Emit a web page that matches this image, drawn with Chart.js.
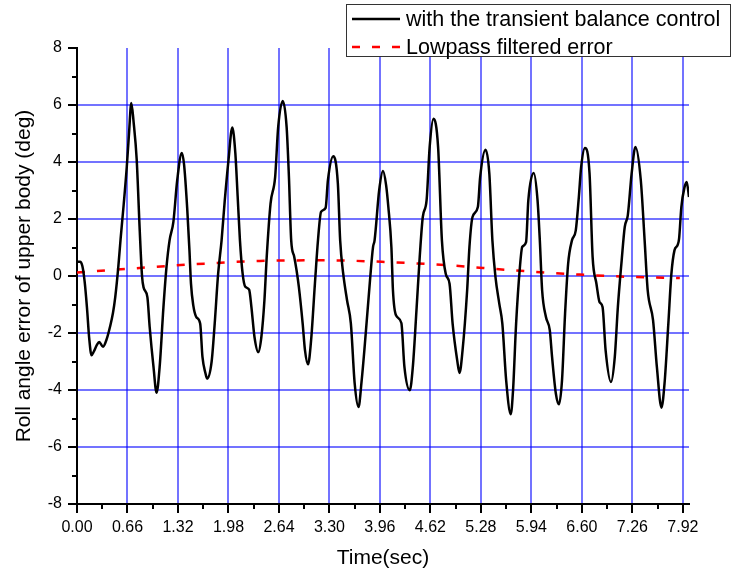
<!DOCTYPE html>
<html>
<head>
<meta charset="utf-8">
<script src="https://cdn.jsdelivr.net/npm/chart.js@4.4.0/dist/chart.umd.min.js"></script>
<style>
  html, body { margin: 0; padding: 0; background: #fff; }
</style>
</head>
<body>
<canvas id="rollChart" width="733" height="575"></canvas>
<script>
// roll angle error (sec, deg)
const timeSec = [
  0.00, 0.04, 0.07, 0.10, 0.13, 0.16, 0.19, 0.22, 0.26, 0.29, 0.34, 0.39, 0.43, 0.47, 0.50, 0.54,
  0.57, 0.61, 0.65, 0.68, 0.71, 0.74, 0.78, 0.82, 0.85, 0.87, 0.92, 0.95, 1.00, 1.04, 1.08, 1.13,
  1.17, 1.21, 1.26, 1.31, 1.37, 1.40, 1.44, 1.47, 1.49, 1.52, 1.56, 1.61, 1.64, 1.68, 1.70, 1.76,
  1.80, 1.845, 1.89, 1.93, 1.98, 2.03, 2.07, 2.10, 2.13, 2.165, 2.20, 2.25, 2.28, 2.32, 2.37, 2.41,
  2.45, 2.48, 2.53, 2.59, 2.63, 2.69, 2.74, 2.77, 2.80, 2.84, 2.87, 2.90, 2.95, 2.98, 3.02, 3.06,
  3.11, 3.15, 3.19, 3.25, 3.28, 3.35, 3.41, 3.44, 3.48, 3.53, 3.58, 3.63, 3.68, 3.72, 3.76, 3.83,
  3.87, 3.89, 3.95, 4.00, 4.04, 4.07, 4.11, 4.13, 4.17, 4.24, 4.28, 4.35, 4.39, 4.44, 4.48, 4.52,
  4.57, 4.61, 4.66, 4.72, 4.77, 4.82, 4.87, 4.91, 4.97, 5.00, 5.04, 5.10, 5.13, 5.17, 5.24, 5.27,
  5.34, 5.39, 5.43, 5.47, 5.52, 5.56, 5.61, 5.67, 5.70, 5.74, 5.79, 5.82, 5.87, 5.90, 5.97, 6.02,
  6.05, 6.08, 6.13, 6.18, 6.21, 6.26, 6.30, 6.34, 6.38, 6.42, 6.47, 6.52, 6.56, 6.59, 6.64, 6.70,
  6.74, 6.79, 6.83, 6.87, 6.91, 6.98, 7.03, 7.07, 7.12, 7.16, 7.20, 7.25, 7.30, 7.37, 7.42, 7.46,
  7.53, 7.58, 7.64, 7.68, 7.73, 7.77, 7.81, 7.85, 7.87, 7.90, 7.94, 7.97, 8.00
];
const rollError = [
  0.50, 0.50, 0.35, -0.20, -1.10, -2.20, -2.78, -2.65, -2.42, -2.32, -2.48, -2.20, -1.80, -1.30, -0.74, 0.32,
  1.30, 2.50, 3.80, 5.00, 6.07, 5.40, 4.10, 1.60, 0.00, -0.40, -0.74, -1.79, -3.19, -4.10, -3.20, -1.09,
  0.32, 1.25, 1.90, 3.36, 4.32, 3.90, 2.40, 0.90, -0.27, -1.03, -1.44, -1.67, -2.84, -3.42, -3.60, -3.00,
  -1.67, 0.08, 1.25, 2.60, 4.06, 5.21, 4.30, 2.80, 1.25, 0.08, -0.38, -0.48, -1.09, -2.14, -2.67, -2.14,
  -0.85, 0.67, 2.54, 3.47, 5.23, 6.14, 5.23, 3.50, 1.25, 0.67, 0.20, -0.38, -1.67, -2.60, -3.10, -2.26,
  -0.27, 1.25, 2.25, 2.39, 3.36, 4.20, 3.24, 1.25, 0.08, -0.85, -1.67, -3.78, -4.60, -3.70, -2.49, -0.15,
  1.02, 1.25, 3.01, 3.68, 3.20, 2.42, 1.00, -0.50, -1.38, -1.65, -3.19, -4.01, -3.19, -1.09, 0.67, 2.07,
  2.66, 4.53, 5.52, 4.53, 1.25, 0.08, -0.27, -1.67, -2.96, -3.40, -2.61, -0.50, 1.02, 2.07, 2.42, 3.47,
  4.43, 3.59, 1.25, -0.03, -0.97, -1.67, -3.66, -4.85, -4.01, -1.67, 0.32, 1.02, 1.19, 2.66, 3.61, 2.66,
  1.25, -0.50, -1.44, -1.90, -2.84, -4.13, -4.50, -3.66, -1.32, 0.43, 1.25, 1.60, 2.77, 3.82, 4.49, 3.59,
  0.67, -0.27, -0.91, -1.09, -2.61, -3.72, -2.84, -1.09, 0.55, 1.72, 2.13, 3.59, 4.53, 3.36, 1.25, -0.50,
  -1.55, -3.19, -4.62, -3.78, -1.67, 0.08, 0.90, 1.08, 1.30, 2.42, 3.10, 3.30, 2.77
];

// lowpass filtered error
const filteredTime = [0.00, 0.65, 1.52, 2.39, 3.26, 4.05, 4.83, 5.70, 6.57, 7.22, 7.88];
const filteredError = [0.12, 0.25, 0.41, 0.53, 0.55, 0.49, 0.38, 0.20, 0.05, -0.03, -0.07];

// axis ticks
const xTicks = [0, 0.66, 1.32, 1.98, 2.64, 3.30, 3.96, 4.62, 5.28, 5.94, 6.60, 7.26, 7.92];
const xMinorTicks = [0.33, 0.99, 1.65, 2.31, 2.97, 3.63, 4.29, 4.95, 5.61, 6.27, 6.93, 7.59];
const yTicks = [-8, -6, -4, -2, 0, 2, 4, 6, 8];
const yMinorTicks = [-7, -5, -3, -1, 1, 3, 5, 7];

const seriesNames = ["with the transient balance control", "Lowpass filtered error"];

const gridBlue = "rgba(0, 0, 255, 0.55)";

// small outward minor tick marks on both axes
const minorTicks = {
  id: "minorTicks",
  afterDraw(chart) {
    const ctx = chart.ctx;
    const area = chart.chartArea;
    const xs = chart.scales.x;
    const ys = chart.scales.y;
    ctx.save();
    ctx.strokeStyle = "#000";
    ctx.lineWidth = 2;
    ctx.beginPath();
    xMinorTicks.forEach((v) => {
      const px = Math.round(xs.getPixelForValue(v));
      ctx.moveTo(px, area.bottom);
      ctx.lineTo(px, area.bottom + 5);
    });
    yMinorTicks.forEach((v) => {
      const py = Math.round(ys.getPixelForValue(v));
      ctx.moveTo(area.left, py);
      ctx.lineTo(area.left - 5, py);
    });
    ctx.stroke();
    ctx.restore();
  },
};

// boxed legend at the top right, drawn from the datasets
const boxLegend = {
  id: "boxLegend",
  afterDraw(chart) {
    const ctx = chart.ctx;
    const left = 346, top = 4, width = 385, height = 53;
    ctx.save();
    ctx.fillStyle = "#fff";
    ctx.fillRect(left, top, width, height);
    ctx.strokeStyle = "#333";
    ctx.lineWidth = 1;
    ctx.strokeRect(left + 0.5, top + 0.5, width - 1, height - 1);
    ctx.font = "21.5px 'Liberation Sans', Arial, sans-serif";
    ctx.textBaseline = "middle";
    ctx.fillStyle = "#000";
    chart.data.datasets.forEach((ds, i) => {
      const y = 19 + i * 28;
      ctx.strokeStyle = ds.borderColor;
      ctx.lineWidth = ds.borderWidth;
      ctx.setLineDash(ds.borderDash || []);
      ctx.beginPath();
      ctx.moveTo(352, y);
      ctx.lineTo(400, y);
      ctx.stroke();
      ctx.setLineDash([]);
      ctx.fillText(ds.label, 406, y + 1);
    });
    ctx.restore();
  },
};

Chart.defaults.font.family = "'Liberation Sans', Arial, sans-serif";
Chart.defaults.color = "#000";

const ctx = document.getElementById("rollChart");

const rollChart = new Chart(ctx, {
  type: "line",
  data: {
    datasets: [
      {
        label: seriesNames[0],
        data: timeSec.map((t, i) => ({ x: t, y: rollError[i] })),
        borderColor: "#000",
        borderWidth: 2.5,
        pointRadius: 0,
        cubicInterpolationMode: "monotone",
      },
      {
        label: seriesNames[1],
        data: filteredTime.map((t, i) => ({ x: t, y: filteredError[i] })),
        borderColor: "#ff0000",
        borderWidth: 2.5,
        borderDash: [8, 12],
        pointRadius: 0,
        cubicInterpolationMode: "monotone",
      },
    ],
  },
  options: {
    responsive: false,
    animation: false,
    devicePixelRatio: 1,
    layout: { padding: { top: 48, right: 44, left: 0, bottom: 0 } },
    plugins: {
      legend: { display: false },
      tooltip: { enabled: false },
    },
    scales: {
      x: {
        type: "linear",
        min: 0,
        max: 8,
        afterFit: (scale) => { scale.height = 71; },
        afterBuildTicks: (scale) => { scale.ticks = xTicks.map((v) => ({ value: v })); },
        ticks: {
          font: { size: 16 },
          padding: 5,
          maxRotation: 0,
          autoSkip: false,
          callback: (v) => Number(v).toFixed(2),
        },
        grid: {
          color: (c) => (c.tick && c.tick.value === 0 ? "transparent" : gridBlue),
          lineWidth: 2,
          tickColor: "#000",
          tickWidth: 2,
          tickLength: 9,
        },
        border: { color: "#000", width: 2 },
        title: {
          display: true,
          text: "Time(sec)",
          font: { size: 21 },
          padding: { top: 0, bottom: 4 },
        },
      },
      y: {
        min: -8,
        max: 8,
        afterFit: (scale) => { scale.width = 77; },
        afterBuildTicks: (scale) => { scale.ticks = yTicks.map((v) => ({ value: v })); },
        ticks: {
          font: { size: 16 },
          padding: 6,
          callback: (v) => String(v),
        },
        grid: {
          color: (c) => (c.tick && (c.tick.value === 8 || c.tick.value === -8) ? "transparent" : gridBlue),
          lineWidth: 2,
          tickColor: "#000",
          tickWidth: 2,
          tickLength: 9,
        },
        border: { color: "#000", width: 2 },
        title: {
          display: true,
          text: "Roll angle error of upper body (deg)",
          font: { size: 21 },
          padding: { top: 12, bottom: 0 },
        },
      },
    },
  },
  plugins: [minorTicks, boxLegend],
});
</script>
</body>
</html>
